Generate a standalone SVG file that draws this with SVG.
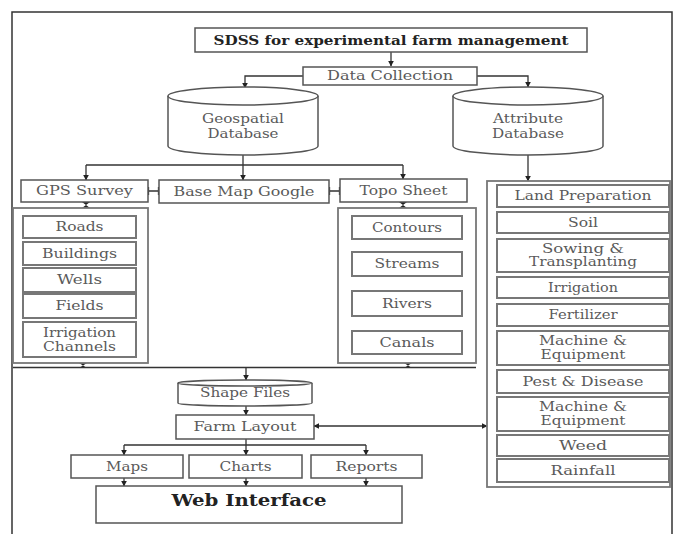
<svg xmlns="http://www.w3.org/2000/svg" width="679" height="534" viewBox="0 0 679 534">
<defs>
<marker id="ah" viewBox="0 0 10 10" refX="9" refY="5" markerWidth="6" markerHeight="6" markerUnits="userSpaceOnUse" orient="auto-start-reverse">
<path d="M0,0 L10,5 L0,10 Z" fill="#222"/>
</marker>
<style>
.f{fill:#fff;stroke:#555;stroke-width:1.5}
.it{fill:#fff;stroke:#777;stroke-width:2}
.fr{fill:none;stroke:#777;stroke-width:1.8}
.t{font-family:"DejaVu Serif","Liberation Serif",serif;font-size:12px;fill:#5a5a5a;text-anchor:middle}
.tb{font-family:"DejaVu Serif","Liberation Serif",serif;font-weight:bold;fill:#222;text-anchor:middle}
.c{fill:none;stroke:#333;stroke-width:1.3}
.ca{fill:none;stroke:#333;stroke-width:1.3;marker-end:url(#ah)}
.cb{fill:none;stroke:#333;stroke-width:1.3;marker-end:url(#ah);marker-start:url(#ah)}
.bt{fill:#222;stroke:none}
</style>
</defs>
<rect width="679" height="534" fill="#fff"/>
<path d="M12,534 V12 H672 V534" fill="none" stroke="#333" stroke-width="1.5"/>

<g id="connectors">
<path class="ca" d="M391,52 V66"/>
<path class="ca" d="M303,76 H245 V88"/>
<path class="ca" d="M477,76 H528 V87"/>
<path class="c" d="M243,155 V165"/>
<path class="c" d="M86,165 H403"/>
<path class="ca" d="M86,165 V180"/>
<path class="ca" d="M243,165 V180"/>
<path class="ca" d="M403,165 V179"/>
<path class="ca" d="M528,155 V181"/>
<path class="c" d="M148,191 H159 M148.5,187 V195 M158.5,187 V195"/>
<path class="c" d="M329,191 H340 M329.5,187 V195 M339.5,187 V195"/>
<path class="bt" d="M82,202 H90 L86,205 Z M82,208 H90 L86,205 Z"/>
<path class="bt" d="M399,202 H407 L403,205 Z M399,208 H407 L403,205 Z"/>
<path class="bt" d="M79,363 H87 L83,365.5 Z M79,368 H87 L83,365.5 Z"/>
<path class="bt" d="M404,363 H412 L408,365.5 Z M404,368 H412 L408,365.5 Z"/>
<path class="c" d="M13,367.5 H476"/>
<path class="ca" d="M246,367 V380"/>
<path class="ca" d="M246,406 V415"/>
<path class="cb" d="M314,426 H487"/>
<path class="c" d="M246,439 V445 M124,445 H366"/>
<path class="ca" d="M124,445 V455"/>
<path class="ca" d="M246,445 V455"/>
<path class="ca" d="M366,445 V455"/>
<path class="ca" d="M124,478 V486"/>
<path class="ca" d="M246,478 V486"/>
<path class="ca" d="M366,478 V486"/>
</g>

<g id="title">
<rect class="f" x="195" y="28" width="392" height="24"/>
<text class="tb" x="391" y="45" font-size="13" textLength="355" lengthAdjust="spacingAndGlyphs">SDSS for experimental farm management</text>
</g>
<g id="data-collection">
<rect class="f" x="303" y="67" width="174" height="18"/>
<text class="t" x="390" y="80" textLength="126" lengthAdjust="spacingAndGlyphs">Data Collection</text>
</g>
<g id="geospatial-db">
<path class="f" d="M168,96 V146 A75,9 0 0 0 318,146 V96"/>
<ellipse class="f" cx="243" cy="96" rx="75" ry="9"/>
<text class="t" x="243" y="123" textLength="82" lengthAdjust="spacingAndGlyphs">Geospatial</text>
<text class="t" x="243" y="138" textLength="71" lengthAdjust="spacingAndGlyphs">Database</text>
</g>
<g id="attribute-db">
<path class="f" d="M453,96 V146 A75,9 0 0 0 603,146 V96"/>
<ellipse class="f" cx="528" cy="96" rx="75" ry="9"/>
<text class="t" x="528" y="123" textLength="70" lengthAdjust="spacingAndGlyphs">Attribute</text>
<text class="t" x="528" y="138" textLength="72" lengthAdjust="spacingAndGlyphs">Database</text>
</g>
<g id="gps-survey">
<rect class="f" x="21" y="180" width="127" height="22"/>
<text class="t" x="84.5" y="195" textLength="97" lengthAdjust="spacingAndGlyphs">GPS Survey</text>
</g>
<g id="base-map">
<rect class="f" x="159" y="180" width="170" height="23"/>
<text class="t" x="244" y="195.5" textLength="141" lengthAdjust="spacingAndGlyphs">Base Map Google</text>
</g>
<g id="topo-sheet">
<rect class="f" x="340" y="179" width="127" height="23"/>
<text class="t" x="403.5" y="195" textLength="88" lengthAdjust="spacingAndGlyphs">Topo Sheet</text>
</g>

<g id="gps-list">
<rect class="fr" x="13" y="208" width="135" height="155"/>
<rect class="it" x="23" y="216" width="113" height="22"/>
<text class="t" x="79.5" y="231" textLength="48" lengthAdjust="spacingAndGlyphs">Roads</text>
<rect class="it" x="23" y="242" width="113" height="23"/>
<text class="t" x="79.5" y="257.5" textLength="75" lengthAdjust="spacingAndGlyphs">Buildings</text>
<rect class="it" x="23" y="268" width="113" height="24"/>
<text class="t" x="79.5" y="284" textLength="45" lengthAdjust="spacingAndGlyphs">Wells</text>
<rect class="it" x="23" y="294" width="113" height="24"/>
<text class="t" x="79.5" y="310" textLength="48" lengthAdjust="spacingAndGlyphs">Fields</text>
<rect class="it" x="23" y="322" width="113" height="35"/>
<text class="t" x="79.5" y="337" textLength="73" lengthAdjust="spacingAndGlyphs">Irrigation</text>
<text class="t" x="79.5" y="351" textLength="73" lengthAdjust="spacingAndGlyphs">Channels</text>
</g>

<g id="topo-list">
<rect class="fr" x="338" y="208" width="138" height="155"/>
<rect class="it" x="352" y="216" width="110" height="23"/>
<text class="t" x="407" y="231.5" textLength="70" lengthAdjust="spacingAndGlyphs">Contours</text>
<rect class="it" x="352" y="252" width="110" height="24"/>
<text class="t" x="407" y="268" textLength="65" lengthAdjust="spacingAndGlyphs">Streams</text>
<rect class="it" x="352" y="291" width="110" height="25"/>
<text class="t" x="407" y="307.5" textLength="50" lengthAdjust="spacingAndGlyphs">Rivers</text>
<rect class="it" x="352" y="331" width="110" height="23"/>
<text class="t" x="407" y="346.5" textLength="55" lengthAdjust="spacingAndGlyphs">Canals</text>
</g>

<g id="attribute-list">
<rect class="fr" x="487" y="181" width="183" height="306"/>
<rect class="it" x="497" y="185" width="172" height="22"/>
<text class="t" x="583" y="200" textLength="137" lengthAdjust="spacingAndGlyphs">Land Preparation</text>
<rect class="it" x="497" y="212" width="172" height="21"/>
<text class="t" x="583" y="226.5" textLength="30" lengthAdjust="spacingAndGlyphs">Soil</text>
<rect class="it" x="497" y="239" width="172" height="33"/>
<text class="t" x="583" y="253" textLength="82" lengthAdjust="spacingAndGlyphs">Sowing &amp;</text>
<text class="t" x="583" y="266" textLength="108" lengthAdjust="spacingAndGlyphs">Transplanting</text>
<rect class="it" x="497" y="277" width="172" height="21"/>
<text class="t" x="583" y="291.5" textLength="70" lengthAdjust="spacingAndGlyphs">Irrigation</text>
<rect class="it" x="497" y="304" width="172" height="22"/>
<text class="t" x="583" y="319" textLength="69" lengthAdjust="spacingAndGlyphs">Fertilizer</text>
<rect class="it" x="497" y="331" width="172" height="34"/>
<text class="t" x="583" y="345" textLength="88" lengthAdjust="spacingAndGlyphs">Machine &amp;</text>
<text class="t" x="583" y="359" textLength="85" lengthAdjust="spacingAndGlyphs">Equipment</text>
<rect class="it" x="497" y="370" width="172" height="23"/>
<text class="t" x="583" y="385.5" textLength="121" lengthAdjust="spacingAndGlyphs">Pest &amp; Disease</text>
<rect class="it" x="497" y="397" width="172" height="34"/>
<text class="t" x="583" y="411" textLength="88" lengthAdjust="spacingAndGlyphs">Machine &amp;</text>
<text class="t" x="583" y="425" textLength="85" lengthAdjust="spacingAndGlyphs">Equipment</text>
<rect class="it" x="497" y="435" width="172" height="21"/>
<text class="t" x="583" y="449.5" textLength="48" lengthAdjust="spacingAndGlyphs">Weed</text>
<rect class="it" x="497" y="459" width="172" height="23"/>
<text class="t" x="583" y="474.5" textLength="65" lengthAdjust="spacingAndGlyphs">Rainfall</text>
</g>

<g id="shape-files">
<path class="f" d="M178,383 V403 A67,3 0 0 0 312,403 V383"/>
<ellipse class="f" cx="245" cy="383" rx="67" ry="3"/>
<text class="t" x="245" y="397" textLength="90" lengthAdjust="spacingAndGlyphs">Shape Files</text>
</g>
<g id="farm-layout">
<rect class="f" x="176" y="415" width="138" height="24"/>
<text class="t" x="245" y="431" textLength="103" lengthAdjust="spacingAndGlyphs">Farm Layout</text>
</g>
<g id="maps">
<rect class="f" x="71" y="455" width="112" height="23"/>
<text class="t" x="127" y="470.5" textLength="42" lengthAdjust="spacingAndGlyphs">Maps</text>
</g>
<g id="charts">
<rect class="f" x="189" y="455" width="113" height="23"/>
<text class="t" x="245.5" y="470.5" textLength="52" lengthAdjust="spacingAndGlyphs">Charts</text>
</g>
<g id="reports">
<rect class="f" x="311" y="455" width="111" height="23"/>
<text class="t" x="366.5" y="470.5" textLength="62" lengthAdjust="spacingAndGlyphs">Reports</text>
</g>
<g id="web-interface">
<rect class="f" x="96" y="486" width="306" height="37"/>
<text class="tb" x="249" y="506" font-size="17" textLength="155" lengthAdjust="spacingAndGlyphs">Web Interface</text>
</g>
</svg>
